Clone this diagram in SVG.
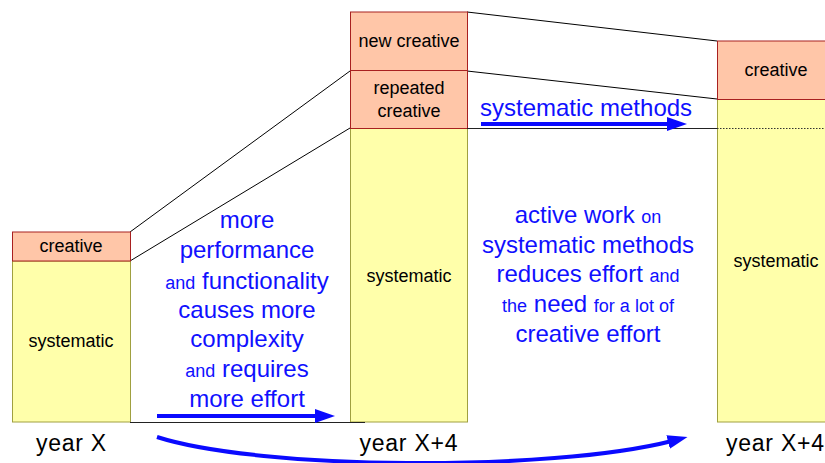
<svg xmlns="http://www.w3.org/2000/svg" width="825" height="463" viewBox="0 0 825 463">
<style>
.cr{fill:#FFC6A8;stroke:#A82020;stroke-width:1}
.sy{fill:#FFFFAA;stroke:#A0A040;stroke-width:1}
.bl{font-family:"Liberation Sans",Arial,sans-serif;font-size:18px;fill:#000;text-anchor:middle}
.yr{font-family:"Liberation Sans",Arial,sans-serif;font-size:23px;fill:#000;text-anchor:middle}
.bt{font-family:"Liberation Sans",Arial,sans-serif;font-size:24px;fill:#1010FF;text-anchor:middle}
.sm{font-size:18px}
.thin{stroke:#000;stroke-width:1;fill:none}
.arr{stroke:#0A0AFF;stroke-width:4;fill:none}
</style>
<defs>
<marker id="ah" markerUnits="userSpaceOnUse" markerWidth="20" markerHeight="14" viewBox="0 0 20 14" refX="4" refY="7" orient="auto">
<path d="M0,0 L20,7 L0,14 z" fill="#0A0AFF"/>
</marker>
</defs>
<rect width="825" height="463" fill="#fff"/>
<g id="connectors">
<line class="thin" x1="130" y1="232" x2="350" y2="71"/>
<line class="thin" x1="130" y1="261" x2="350" y2="128"/>
<line class="thin" x1="467" y1="12" x2="717" y2="41"/>
<line class="thin" x1="467" y1="71" x2="717" y2="99"/>
</g>
<g id="year-x">
<rect class="sy" x="12.5" y="261" width="118" height="161"/>
<rect class="cr" x="12.5" y="232" width="118" height="29"/>
<text class="bl" x="71" y="252">creative</text>
<text class="bl" x="71" y="347">systematic</text>
<text class="yr" x="71" y="451" textLength="70">year X</text>
</g>
<g id="year-x4">
<rect class="sy" x="350.5" y="128.5" width="117" height="293.5"/>
<rect class="cr" x="350.5" y="70.5" width="117" height="58"/>
<rect class="cr" x="350.5" y="12" width="117" height="58.5"/>
<text class="bl" x="409" y="47">new creative</text>
<text class="bl" x="409" y="94">repeated</text>
<text class="bl" x="409" y="117">creative</text>
<text class="bl" x="409" y="282">systematic</text>
<text class="yr" x="408.5" y="451" textLength="98">year X+4</text>
</g>
<g id="year-x4b">
<rect class="sy" x="717.5" y="99.5" width="118" height="322.5"/>
<rect class="cr" x="717.5" y="41" width="118" height="58.5"/>
<line x1="717" y1="128.5" x2="825" y2="128.5" stroke="#333" stroke-width="1" stroke-dasharray="1.5,1.5"/>
<text class="bl" x="776" y="76">creative</text>
<text class="bl" x="776" y="267">systematic</text>
<text class="yr" x="775" y="451" textLength="98">year X+4</text>
</g>
<g id="baselines">
<line x1="130" y1="422.5" x2="365" y2="422.5" stroke="#222" stroke-width="1.2"/>
<line x1="467" y1="128.5" x2="717" y2="128.5" stroke="#222" stroke-width="1.2"/>
</g>
<g id="growth-text">
<text class="bt" x="247" y="228">more</text>
<text class="bt" x="247" y="258">performance</text>
<text class="bt" x="247" y="289"><tspan class="sm">and</tspan> functionality</text>
<text class="bt" x="247" y="318">causes more</text>
<text class="bt" x="247" y="347">complexity</text>
<text class="bt" x="247" y="377"><tspan class="sm">and</tspan> requires</text>
<text class="bt" x="247" y="407">more effort</text>
</g>
<g id="method-text">
<text class="bt" x="480" y="116" style="text-anchor:start">systematic methods</text>
<text class="bt" x="588" y="223">active work <tspan class="sm">on</tspan></text>
<text class="bt" x="588" y="253">systematic methods</text>
<text class="bt" x="588" y="282">reduces effort <tspan class="sm">and</tspan></text>
<text class="bt" x="588" y="312"><tspan class="sm">the</tspan> need <tspan class="sm">for a lot of</tspan></text>
<text class="bt" x="588" y="342">creative effort</text>
</g>
<g id="arrows">
<line class="arr" x1="157" y1="416" x2="319" y2="416" marker-end="url(#ah)"/>
<line class="arr" x1="481" y1="124" x2="671" y2="124" marker-end="url(#ah)"/>
<path class="arr" d="M157,437 C260,470 550,472 672,441" marker-end="url(#ah)"/>
</g>
</svg>
